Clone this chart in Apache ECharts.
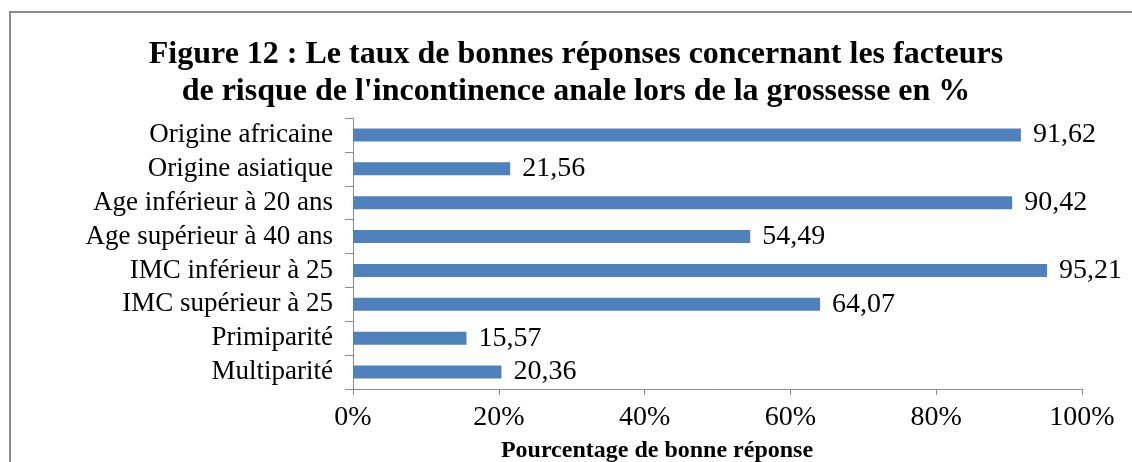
<!DOCTYPE html>
<html>
<head>
    <meta charset="utf-8">
    <title>Figure 12</title>
    <script src="https://cdn.jsdelivr.net/npm/echarts@6/dist/echarts.min.js"></script>
    <style>
        html, body { margin: 0; padding: 0; background: #fff; }
        #chart { width: 1132px; height: 462px; }
    </style>
</head>
<body>
    <div id="chart"></div>
    <script>
        // données (de haut en bas)
        var categories = [
            'Origine africaine',
            'Origine asiatique',
            'Age inférieur à 20 ans',
            'Age supérieur à 40 ans',
            'IMC inférieur à 25',
            'IMC supérieur à 25',
            'Primiparité',
            'Multiparité'
        ];
        var values = [91.62, 21.56, 90.42, 54.49, 95.21, 64.07, 15.57, 20.36];
        var xTicks = [0, 20, 40, 60, 80, 100];

        var serif = '"Liberation Serif", "Times New Roman", serif';
        var chart = echarts.init(document.getElementById('chart'));

        chart.setOption({
            animation: false,
            title: [
                {
                    text: 'Figure 12 : Le taux de bonnes réponses concernant les facteurs\nde risque de l\'incontinence anale lors de la grossesse en %',
                    left: 571,
                    top: 31,
                    textAlign: 'center',
                    textStyle: {
                        fontFamily: serif,
                        fontWeight: 'bold',
                        fontSize: 32,
                        lineHeight: 37,
                        color: '#000'
                    }
                },
                {
                    text: 'Pourcentage de bonne réponse',
                    left: 652,
                    top: 434,
                    textAlign: 'center',
                    textStyle: {
                        fontFamily: serif,
                        fontWeight: 'bold',
                        fontSize: 24,
                        color: '#000'
                    }
                }
            ],
            graphic: [{
                type: 'rect',
                shape: { x: 10, y: 12, width: 1200, height: 500 },
                style: { fill: 'none', stroke: '#8c8c8c', lineWidth: 2 },
                silent: true
            }],
            grid: {
                left: 353,
                right: 50,
                top: 118,
                bottom: 73
            },
            xAxis: {
                type: 'value',
                min: xTicks[0],
                max: xTicks[xTicks.length - 1],
                interval: 20,
                splitLine: { show: false },
                axisLine: { show: true, lineStyle: { color: '#8c8c8c', width: 1 } },
                axisTick: { show: true, length: 6, lineStyle: { color: '#8c8c8c' } },
                axisLabel: {
                    margin: 15,
                    fontFamily: serif,
                    fontSize: 28,
                    color: '#000',
                    formatter: function (v) { return v + '%'; }
                }
            },
            yAxis: {
                type: 'category',
                inverse: true,
                data: categories,
                axisLine: { show: true, lineStyle: { color: '#8c8c8c', width: 1 } },
                axisTick: { show: true, interval: 0, length: 8, lineStyle: { color: '#8c8c8c' } },
                axisLabel: {
                    interval: 0,
                    margin: 20,
                    fontFamily: serif,
                    fontSize: 27,
                    color: '#000'
                }
            },
            series: [{
                type: 'bar',
                data: values,
                barWidth: 13,
                itemStyle: { color: '#4f81bd' },
                label: {
                    show: true,
                    position: 'right',
                    distance: 12,
                    fontFamily: serif,
                    fontSize: 28,
                    color: '#000',
                    formatter: function (p) {
                        return p.value.toFixed(2).replace('.', ',');
                    }
                }
            }]
        });
    </script>
</body>
</html>
